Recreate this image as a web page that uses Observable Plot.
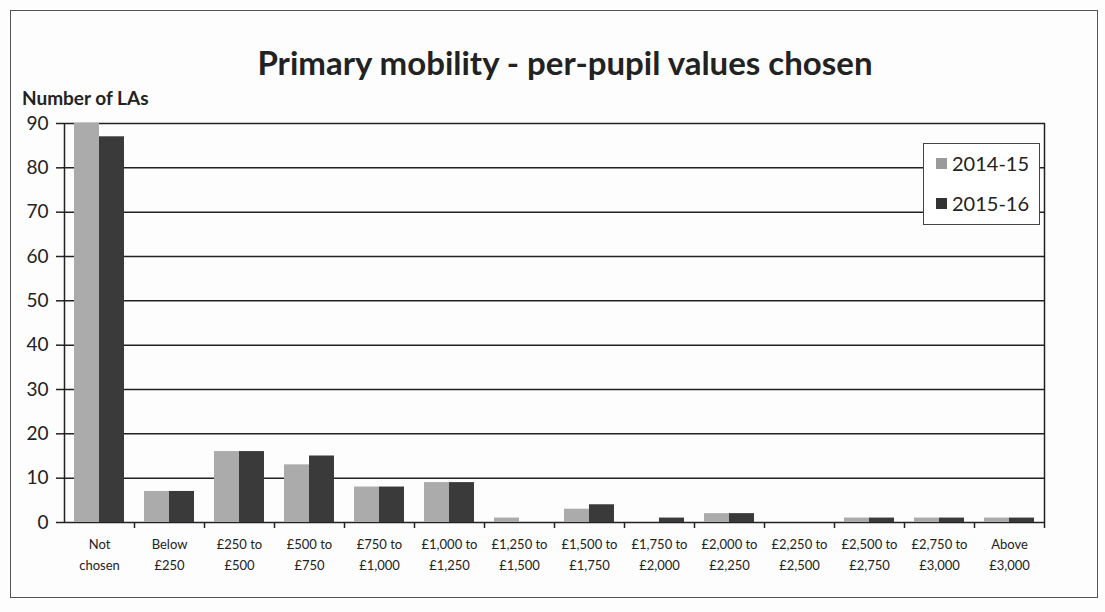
<!DOCTYPE html>
<html>
<head>
<meta charset="utf-8">
<script src="https://cdn.jsdelivr.net/npm/d3@7"></script>
<script src="https://cdn.jsdelivr.net/npm/@observablehq/plot@0.6"></script>
<style>
  html, body { margin: 0; padding: 0; background: #fdfdfd; }
  #wrap { position: relative; width: 1105px; height: 612px; overflow: hidden; font-family: Lato, "Open Sans", sans-serif; color: #222; }
  #border { position: absolute; left: 10px; top: 10px; width: 1086px; height: 586px; border: 1.5px solid #555; }
  #title { position: absolute; left: 0; width: 1130px; top: 42px; text-align: center; font-size: 33px; font-weight: 700; color: #222; }
  #ylabel { position: absolute; left: 22px; top: 86px; font-size: 19px; font-weight: 700; color: #222; }
  #chart { position: absolute; left: 0; top: 100px; }
  #legend { position: absolute; left: 923px; top: 143px; width: 117px; height: 82px; border: 1.5px solid #444; background: #fff; box-sizing: border-box; }
  .item { position: absolute; left: 12px; font-size: 20px; display: flex; align-items: center; }
  .sw { width: 11px; height: 11px; margin-right: 5px; display: inline-block; }
</style>
</head>
<body>
<div id="wrap">
  <div id="border"></div>
  <div id="title">Primary mobility - per-pupil values chosen</div>
  <div id="ylabel">Number of LAs</div>
  <div id="chart"></div>
  <div id="legend">
    <div class="item" style="top:7px"><span class="sw" style="background:#9a9a9a"></span>2014-15</div>
    <div class="item" style="top:47px"><span class="sw" style="background:#333"></span>2015-16</div>
  </div>
</div>
<script>
const categories = ["Not chosen", "Below £250", "£250 to £500", "£500 to £750", "£750 to £1,000",
  "£1,000 to £1,250", "£1,250 to £1,500", "£1,500 to £1,750", "£1,750 to £2,000", "£2,000 to £2,250",
  "£2,250 to £2,500", "£2,500 to £2,750", "£2,750 to £3,000", "Above £3,000"];
const tickLabels = ["Not\nchosen", "Below\n£250", "£250 to\n£500", "£500 to\n£750", "£750 to\n£1,000",
  "£1,000 to\n£1,250", "£1,250 to\n£1,500", "£1,500 to\n£1,750", "£1,750 to\n£2,000", "£2,000 to\n£2,250",
  "£2,250 to\n£2,500", "£2,500 to\n£2,750", "£2,750 to\n£3,000", "Above\n£3,000"];
const values2014 = [90, 7, 16, 13, 8, 9, 1, 3, 0, 2, 0, 1, 1, 1];
const values2015 = [87, 7, 16, 15, 8, 9, 0, 4, 1, 2, 0, 1, 1, 1];
const yTicks = [0, 10, 20, 30, 40, 50, 60, 70, 80, 90];

const d2014 = categories.map((c, i) => ({category: c, value: values2014[i]}));
const d2015 = categories.map((c, i) => ({category: c, value: values2015[i]}));
const labelOf = new Map(categories.map((c, i) => [c, tickLabels[i]]));

const chart = Plot.plot({
  width: 1105,
  height: 492,
  marginLeft: 62,
  marginRight: 60,
  marginTop: 23,
  marginBottom: 70,
  style: {fontFamily: "Lato, 'Open Sans', sans-serif", color: "#222", background: "transparent"},
  x: {domain: categories, padding: 0, axis: null, label: null},
  y: {domain: [0, 90], axis: null, label: null},
  marks: [
    Plot.ruleY(yTicks, {stroke: "#222", strokeWidth: 1.5}),
    Plot.barY(d2014, {x: "category", y: "value", fill: "#ababab", insetLeft: 10, insetRight: 35}),
    Plot.barY(d2015, {x: "category", y: "value", fill: "#3a3a3a", insetLeft: 35, insetRight: 10}),
    Plot.ruleX([categories[categories.length - 1]], {stroke: "#222", strokeWidth: 1.5, dx: 35}),
    Plot.ruleX([categories[0]], {stroke: "#222", strokeWidth: 1.5, dx: -35}),
    Plot.axisY({ticks: yTicks, tickSize: 6, tickPadding: 8, fontSize: 19, stroke: "#222", strokeWidth: 1.5, label: null}),
    Plot.axisY({ticks: yTicks, tickSize: 0, tickFormat: () => "", stroke: "#222", strokeWidth: 1.5, dx: 5, label: null}),
    Plot.axisX({tickSize: 6, tickFormat: () => "", dx: 35, stroke: "#222", strokeWidth: 1.5, label: null}),
    Plot.axisX({tickSize: 0, tickPadding: 12, fontSize: 13, lineHeight: 1.6, tickFormat: d => labelOf.get(d), label: null})
  ]
});
document.getElementById("chart").appendChild(chart);
</script>
</body>
</html>
